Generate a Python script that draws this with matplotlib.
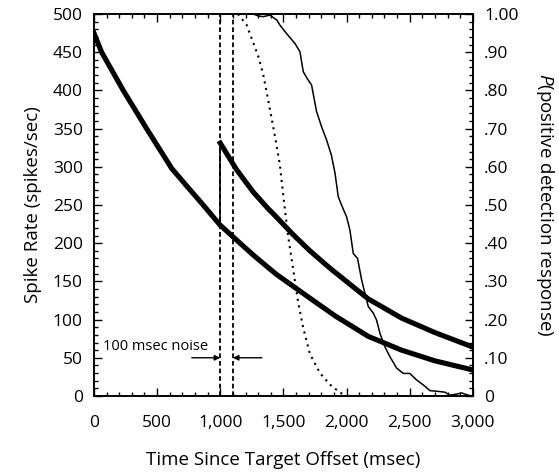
import matplotlib
matplotlib.use('Agg')
import matplotlib.pyplot as plt
from matplotlib.ticker import MultipleLocator

plt.rcParams['font.family'] = ['Open Sans', 'DejaVu Sans']
plt.rcParams['mathtext.fontset'] = 'custom'
plt.rcParams['mathtext.rm'] = 'Open Sans'
plt.rcParams['mathtext.it'] = 'Open Sans:italic'

# spike rate, no noise pulse
t_a = [0, 61, 232, 417, 615, 734, 865, 997, 1130, 1261, 1380, 1446, 1710, 1908, 2172, 2435, 2699, 3000]
rate_a = [475, 450, 400, 350, 298, 275, 250, 224, 204, 184.5, 168, 159, 128, 105, 78, 60, 46, 34]

# spike rate after the 100 msec noise
t_b = [1000, 1130, 1261, 1380, 1446, 1578, 1710, 1842, 1908, 2172, 2435, 2699, 3000]
rate_b = [331, 296, 267, 245, 234, 211, 190, 171, 162, 127, 102, 83, 64]

# P(positive detection response)
t_solid = [1100, 1260, 1300, 1340, 1393, 1448, 1472, 1512, 1560, 1591, 1631, 1657, 1690, 1723,
           1762, 1802, 1842, 1880, 1908, 1934, 1960, 2000, 2026, 2053, 2087, 2119, 2145, 2172,
           2211, 2237, 2264, 2303, 2343, 2396, 2449, 2501, 2554, 2607, 2660, 2726, 2778, 2818,
           2871, 2910, 2963, 3000]
p_solid = [1.0, 1.0, 0.995, 0.993, 0.997, 0.984, 0.971, 0.954, 0.935, 0.923, 0.901, 0.849, 0.83, 0.814,
           0.745, 0.705, 0.67, 0.63, 0.584, 0.522, 0.50, 0.469, 0.435, 0.373, 0.360, 0.304, 0.269, 0.234,
           0.217, 0.199, 0.164, 0.129, 0.103, 0.073, 0.059, 0.059, 0.042, 0.029, 0.014, 0.012, 0.010, 0.002,
           0.005, 0.008, 0.002, 0.0]

t_dot = [1140, 1208, 1261, 1300, 1340, 1388, 1433, 1472, 1504, 1538, 1578, 1617, 1657, 1710,
         1789, 1868, 1947, 2000]
p_dot = [1.0, 0.972, 0.925, 0.89, 0.842, 0.76, 0.68, 0.605, 0.51, 0.417, 0.33, 0.245, 0.178, 0.11,
         0.06, 0.03, 0.009, 0.0]

noise_on, noise_off = 1000, 1100

x_ticks = [0, 500, 1000, 1500, 2000, 2500, 3000]
x_labels = ['0', '500', '1,000', '1,500', '2,000', '2,500', '3,000']
p_ticks = [0, .1, .2, .3, .4, .5, .6, .7, .8, .9, 1.0]
p_labels = ['0', '.10', '.20', '.30', '.40', '.50', '.60', '.70', '.80', '.90', '1.00']

fig = plt.figure(figsize=(5.59, 4.74), dpi=100, facecolor='white')
fig.subplots_adjust(left=0.168, right=0.846, top=0.9705, bottom=0.1646)
ax = fig.add_subplot(1, 1, 1)
ax2 = ax.twinx()

# thick lines stand in for the noisy spike-rate traces
ax.plot(t_a, rate_a, color='black', lw=3.7, solid_joinstyle='round')
ax.plot(t_b, rate_b, color='black', lw=3.7, solid_joinstyle='round')
ax.plot([t_b[0], t_b[0]], [224, rate_b[0]], color='black', lw=1.2)
for xv in (noise_on, noise_off):
    ax.axvline(xv, color='black', lw=1.3, linestyle=(0, (2.6, 1.6)))

ax2.plot(t_solid, p_solid, color='black', lw=1.1)
ax2.plot(t_dot, p_dot, color='black', lw=1.5, linestyle=(0, (1, 2.2)))

ax.text(71, 65, '100 msec noise', fontsize=10.5, va='center', ha='left')
ax.annotate('', xy=(noise_on, 50), xytext=(775, 50),
            arrowprops=dict(arrowstyle='-|>', color='black', lw=1, mutation_scale=8, shrinkA=0, shrinkB=0))
ax.annotate('', xy=(noise_off, 50), xytext=(1330, 50),
            arrowprops=dict(arrowstyle='-|>', color='black', lw=1, mutation_scale=8, shrinkA=0, shrinkB=0))

ax.set_xlim(0, 3000)
ax.set_ylim(0, 500)
ax2.set_ylim(0, 1.0)
ax.set_xticks(x_ticks)
ax.set_xticklabels(x_labels)
ax.xaxis.set_minor_locator(MultipleLocator(100))
ax.yaxis.set_major_locator(MultipleLocator(50))
ax.yaxis.set_minor_locator(MultipleLocator(10))
ax2.set_yticks(p_ticks)
ax2.set_yticklabels(p_labels)
ax2.yaxis.set_minor_locator(MultipleLocator(0.02))

ax.tick_params(which='both', direction='in', top=True, right=False, labelsize=12.5, width=1)
ax.tick_params(which='major', length=6)
ax.tick_params(which='minor', length=3)
ax.tick_params(axis='x', pad=14)
ax.tick_params(axis='y', pad=8)
ax2.tick_params(which='both', direction='in', labelsize=12.5, width=1, pad=8)
ax2.tick_params(which='major', length=6)
ax2.tick_params(which='minor', length=3)

for a in (ax, ax2):
    for s in a.spines.values():
        s.set_linewidth(1.2)

ax.set_xlabel('Time Since Target Offset (msec)', fontsize=13.5, labelpad=14)
ax.set_ylabel('Spike Rate (spikes/sec)', fontsize=13.5, labelpad=8)
ax2.set_ylabel('$P$(positive detection response)', fontsize=13.5, rotation=270, va='bottom', labelpad=11)

plt.savefig('out.png', dpi=100)
